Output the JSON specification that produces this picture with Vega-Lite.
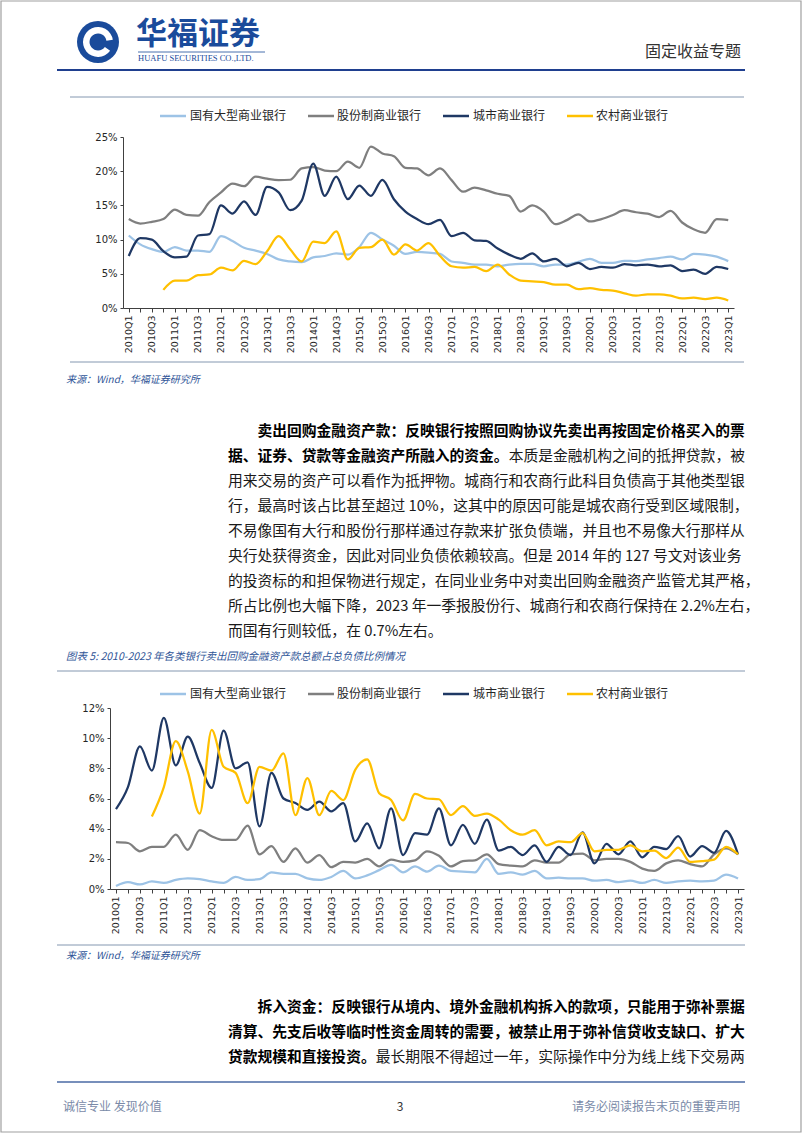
{
"$schema": "https://vega.github.io/schema/vega-lite/v6.json",
"padding": 0,
"background": "white",
"spacing": 0,
"bounds": "flush",
"config": {
  "view": {"stroke": null},
  "font": "Noto Sans CJK SC",
  "axis": {"grid": false, "labelFont": "DejaVu Sans", "domainColor": "#404040", "tickColor": "#404040", "labelColor": "#262626"}
},
"datasets": {
"c1": [
{"q":"2010Q1","s":"国有大型商业银行","v":10.6},{"q":"2010Q2","s":"国有大型商业银行","v":9.3},{"q":"2010Q3","s":"国有大型商业银行","v":8.6},{"q":"2010Q4","s":"国有大型商业银行","v":8.2},
{"q":"2011Q1","s":"国有大型商业银行","v":8.9},{"q":"2011Q2","s":"国有大型商业银行","v":8.4},{"q":"2011Q3","s":"国有大型商业银行","v":8.4},{"q":"2011Q4","s":"国有大型商业银行","v":8.2},
{"q":"2012Q1","s":"国有大型商业银行","v":10.5},{"q":"2012Q2","s":"国有大型商业银行","v":9.8},{"q":"2012Q3","s":"国有大型商业银行","v":8.8},{"q":"2012Q4","s":"国有大型商业银行","v":8.4},
{"q":"2013Q1","s":"国有大型商业银行","v":7.9},{"q":"2013Q2","s":"国有大型商业银行","v":7.1},{"q":"2013Q3","s":"国有大型商业银行","v":6.8},{"q":"2013Q4","s":"国有大型商业银行","v":6.7},
{"q":"2014Q1","s":"国有大型商业银行","v":7.4},{"q":"2014Q2","s":"国有大型商业银行","v":7.6},{"q":"2014Q3","s":"国有大型商业银行","v":8.0},{"q":"2014Q4","s":"国有大型商业银行","v":7.8},
{"q":"2015Q1","s":"国有大型商业银行","v":8.9},{"q":"2015Q2","s":"国有大型商业银行","v":11.0},{"q":"2015Q3","s":"国有大型商业银行","v":10.0},{"q":"2015Q4","s":"国有大型商业银行","v":9.1},
{"q":"2016Q1","s":"国有大型商业银行","v":7.9},{"q":"2016Q2","s":"国有大型商业银行","v":8.2},{"q":"2016Q3","s":"国有大型商业银行","v":8.1},{"q":"2016Q4","s":"国有大型商业银行","v":7.9},
{"q":"2017Q1","s":"国有大型商业银行","v":6.8},{"q":"2017Q2","s":"国有大型商业银行","v":6.6},{"q":"2017Q3","s":"国有大型商业银行","v":6.35},{"q":"2017Q4","s":"国有大型商业银行","v":6.35},
{"q":"2018Q1","s":"国有大型商业银行","v":6.1},{"q":"2018Q2","s":"国有大型商业银行","v":6.35},{"q":"2018Q3","s":"国有大型商业银行","v":6.45},{"q":"2018Q4","s":"国有大型商业银行","v":6.45},
{"q":"2019Q1","s":"国有大型商业银行","v":6.1},{"q":"2019Q2","s":"国有大型商业银行","v":6.35},{"q":"2019Q3","s":"国有大型商业银行","v":6.35},{"q":"2019Q4","s":"国有大型商业银行","v":6.75},
{"q":"2020Q1","s":"国有大型商业银行","v":7.2},{"q":"2020Q2","s":"国有大型商业银行","v":6.6},{"q":"2020Q3","s":"国有大型商业银行","v":6.6},{"q":"2020Q4","s":"国有大型商业银行","v":6.9},
{"q":"2021Q1","s":"国有大型商业银行","v":6.85},{"q":"2021Q2","s":"国有大型商业银行","v":7.1},{"q":"2021Q3","s":"国有大型商业银行","v":7.3},{"q":"2021Q4","s":"国有大型商业银行","v":7.5},
{"q":"2022Q1","s":"国有大型商业银行","v":7.1},{"q":"2022Q2","s":"国有大型商业银行","v":7.9},{"q":"2022Q3","s":"国有大型商业银行","v":7.8},{"q":"2022Q4","s":"国有大型商业银行","v":7.5},
{"q":"2023Q1","s":"国有大型商业银行","v":6.85},
{"q":"2010Q1","s":"股份制商业银行","v":13.0},{"q":"2010Q2","s":"股份制商业银行","v":12.35},{"q":"2010Q3","s":"股份制商业银行","v":12.6},{"q":"2010Q4","s":"股份制商业银行","v":13.0},
{"q":"2011Q1","s":"股份制商业银行","v":14.4},{"q":"2011Q2","s":"股份制商业银行","v":13.6},{"q":"2011Q3","s":"股份制商业银行","v":13.5},{"q":"2011Q4","s":"股份制商业银行","v":15.5},
{"q":"2012Q1","s":"股份制商业银行","v":16.9},{"q":"2012Q2","s":"股份制商业银行","v":18.2},{"q":"2012Q3","s":"股份制商业银行","v":17.8},{"q":"2012Q4","s":"股份制商业银行","v":19.2},
{"q":"2013Q1","s":"股份制商业银行","v":18.9},{"q":"2013Q2","s":"股份制商业银行","v":18.7},{"q":"2013Q3","s":"股份制商业银行","v":18.75},{"q":"2013Q4","s":"股份制商业银行","v":20.4},
{"q":"2014Q1","s":"股份制商业银行","v":20.6},{"q":"2014Q2","s":"股份制商业银行","v":20.1},{"q":"2014Q3","s":"股份制商业银行","v":20.0},{"q":"2014Q4","s":"股份制商业银行","v":21.4},
{"q":"2015Q1","s":"股份制商业银行","v":20.5},{"q":"2015Q2","s":"股份制商业银行","v":23.6},{"q":"2015Q3","s":"股份制商业银行","v":22.6},{"q":"2015Q4","s":"股份制商业银行","v":22.2},
{"q":"2016Q1","s":"股份制商业银行","v":20.5},{"q":"2016Q2","s":"股份制商业银行","v":20.4},{"q":"2016Q3","s":"股份制商业银行","v":19.4},{"q":"2016Q4","s":"股份制商业银行","v":20.4},
{"q":"2017Q1","s":"股份制商业银行","v":18.7},{"q":"2017Q2","s":"股份制商业银行","v":17.0},{"q":"2017Q3","s":"股份制商业银行","v":17.6},{"q":"2017Q4","s":"股份制商业银行","v":17.2},
{"q":"2018Q1","s":"股份制商业银行","v":16.7},{"q":"2018Q2","s":"股份制商业银行","v":16.4},{"q":"2018Q3","s":"股份制商业银行","v":14.1},{"q":"2018Q4","s":"股份制商业银行","v":15.0},
{"q":"2019Q1","s":"股份制商业银行","v":14.1},{"q":"2019Q2","s":"股份制商业银行","v":12.25},{"q":"2019Q3","s":"股份制商业银行","v":12.85},{"q":"2019Q4","s":"股份制商业银行","v":13.7},
{"q":"2020Q1","s":"股份制商业银行","v":12.65},{"q":"2020Q2","s":"股份制商业银行","v":13.0},{"q":"2020Q3","s":"股份制商业银行","v":13.6},{"q":"2020Q4","s":"股份制商业银行","v":14.3},
{"q":"2021Q1","s":"股份制商业银行","v":14.0},{"q":"2021Q2","s":"股份制商业银行","v":13.8},{"q":"2021Q3","s":"股份制商业银行","v":13.3},{"q":"2021Q4","s":"股份制商业银行","v":14.2},
{"q":"2022Q1","s":"股份制商业银行","v":12.5},{"q":"2022Q2","s":"股份制商业银行","v":11.5},{"q":"2022Q3","s":"股份制商业银行","v":11.0},{"q":"2022Q4","s":"股份制商业银行","v":13.0},
{"q":"2023Q1","s":"股份制商业银行","v":12.85},
{"q":"2010Q1","s":"城市商业银行","v":7.6},{"q":"2010Q2","s":"城市商业银行","v":10.2},{"q":"2010Q3","s":"城市商业银行","v":10.0},{"q":"2010Q4","s":"城市商业银行","v":8.3},
{"q":"2011Q1","s":"城市商业银行","v":7.4},{"q":"2011Q2","s":"城市商业银行","v":7.5},{"q":"2011Q3","s":"城市商业银行","v":10.6},{"q":"2011Q4","s":"城市商业银行","v":10.8},
{"q":"2012Q1","s":"城市商业银行","v":15.0},{"q":"2012Q2","s":"城市商业银行","v":13.8},{"q":"2012Q3","s":"城市商业银行","v":15.6},{"q":"2012Q4","s":"城市商业银行","v":13.6},
{"q":"2013Q1","s":"城市商业银行","v":17.7},{"q":"2013Q2","s":"城市商业银行","v":16.9},{"q":"2013Q3","s":"城市商业银行","v":14.3},{"q":"2013Q4","s":"城市商业银行","v":15.7},
{"q":"2014Q1","s":"城市商业银行","v":21.1},{"q":"2014Q2","s":"城市商业银行","v":16.4},{"q":"2014Q3","s":"城市商业银行","v":19.2},{"q":"2014Q4","s":"城市商业银行","v":15.9},
{"q":"2015Q1","s":"城市商业银行","v":17.9},{"q":"2015Q2","s":"城市商业银行","v":16.4},{"q":"2015Q3","s":"城市商业银行","v":18.75},{"q":"2015Q4","s":"城市商业银行","v":15.9},
{"q":"2016Q1","s":"城市商业银行","v":14.1},{"q":"2016Q2","s":"城市商业银行","v":13.0},{"q":"2016Q3","s":"城市商业银行","v":12.25},{"q":"2016Q4","s":"城市商业银行","v":12.9},
{"q":"2017Q1","s":"城市商业银行","v":10.5},{"q":"2017Q2","s":"城市商业银行","v":11.0},{"q":"2017Q3","s":"城市商业银行","v":9.9},{"q":"2017Q4","s":"城市商业银行","v":9.8},
{"q":"2018Q1","s":"城市商业银行","v":8.7},{"q":"2018Q2","s":"城市商业银行","v":7.8},{"q":"2018Q3","s":"城市商业银行","v":7.2},{"q":"2018Q4","s":"城市商业银行","v":8.0},
{"q":"2019Q1","s":"城市商业银行","v":6.8},{"q":"2019Q2","s":"城市商业银行","v":7.2},{"q":"2019Q3","s":"城市商业银行","v":6.1},{"q":"2019Q4","s":"城市商业银行","v":6.6},
{"q":"2020Q1","s":"城市商业银行","v":5.7},{"q":"2020Q2","s":"城市商业银行","v":6.0},{"q":"2020Q3","s":"城市商业银行","v":5.9},{"q":"2020Q4","s":"城市商业银行","v":6.4},
{"q":"2021Q1","s":"城市商业银行","v":6.25},{"q":"2021Q2","s":"城市商业银行","v":6.35},{"q":"2021Q3","s":"城市商业银行","v":6.1},{"q":"2021Q4","s":"城市商业银行","v":6.25},
{"q":"2022Q1","s":"城市商业银行","v":5.4},{"q":"2022Q2","s":"城市商业银行","v":5.6},{"q":"2022Q3","s":"城市商业银行","v":5.0},{"q":"2022Q4","s":"城市商业银行","v":6.0},
{"q":"2023Q1","s":"城市商业银行","v":5.7},
{"q":"2010Q4","s":"农村商业银行","v":2.65},
{"q":"2011Q1","s":"农村商业银行","v":4.0},{"q":"2011Q2","s":"农村商业银行","v":4.0},{"q":"2011Q3","s":"农村商业银行","v":4.8},{"q":"2011Q4","s":"农村商业银行","v":4.9},
{"q":"2012Q1","s":"农村商业银行","v":5.9},{"q":"2012Q2","s":"农村商业银行","v":5.5},{"q":"2012Q3","s":"农村商业银行","v":6.9},{"q":"2012Q4","s":"农村商业银行","v":6.4},
{"q":"2013Q1","s":"农村商业银行","v":8.3},{"q":"2013Q2","s":"农村商业银行","v":10.5},{"q":"2013Q3","s":"农村商业银行","v":8.6},{"q":"2013Q4","s":"农村商业银行","v":6.8},
{"q":"2014Q1","s":"农村商业银行","v":9.7},{"q":"2014Q2","s":"农村商业银行","v":9.5},{"q":"2014Q3","s":"农村商业银行","v":11.2},{"q":"2014Q4","s":"农村商业银行","v":7.1},
{"q":"2015Q1","s":"农村商业银行","v":8.8},{"q":"2015Q2","s":"农村商业银行","v":8.9},{"q":"2015Q3","s":"农村商业银行","v":10.0},{"q":"2015Q4","s":"农村商业银行","v":7.8},
{"q":"2016Q1","s":"农村商业银行","v":9.3},{"q":"2016Q2","s":"农村商业银行","v":8.4},{"q":"2016Q3","s":"农村商业银行","v":9.5},{"q":"2016Q4","s":"农村商业银行","v":7.6},
{"q":"2017Q1","s":"农村商业银行","v":6.1},{"q":"2017Q2","s":"农村商业银行","v":5.9},{"q":"2017Q3","s":"农村商业银行","v":6.0},{"q":"2017Q4","s":"农村商业银行","v":5.4},
{"q":"2018Q1","s":"农村商业银行","v":6.35},{"q":"2018Q2","s":"农村商业银行","v":4.9},{"q":"2018Q3","s":"农村商业银行","v":4.0},{"q":"2018Q4","s":"农村商业银行","v":3.9},
{"q":"2019Q1","s":"农村商业银行","v":3.8},{"q":"2019Q2","s":"农村商业银行","v":3.4},{"q":"2019Q3","s":"农村商业银行","v":3.4},{"q":"2019Q4","s":"农村商业银行","v":2.75},
{"q":"2020Q1","s":"农村商业银行","v":2.9},{"q":"2020Q2","s":"农村商业银行","v":2.65},{"q":"2020Q3","s":"农村商业银行","v":2.55},{"q":"2020Q4","s":"农村商业银行","v":2.15},
{"q":"2021Q1","s":"农村商业银行","v":1.8},{"q":"2021Q2","s":"农村商业银行","v":2.0},{"q":"2021Q3","s":"农村商业银行","v":2.0},{"q":"2021Q4","s":"农村商业银行","v":1.8},
{"q":"2022Q1","s":"农村商业银行","v":1.4},{"q":"2022Q2","s":"农村商业银行","v":1.5},{"q":"2022Q3","s":"农村商业银行","v":1.3},{"q":"2022Q4","s":"农村商业银行","v":1.5},
{"q":"2023Q1","s":"农村商业银行","v":1.1}
],
"c2": [
{"q":"2010Q1","s":"国有大型商业银行","v":0.2},{"q":"2010Q2","s":"国有大型商业银行","v":0.45},{"q":"2010Q3","s":"国有大型商业银行","v":0.3},{"q":"2010Q4","s":"国有大型商业银行","v":0.5},
{"q":"2011Q1","s":"国有大型商业银行","v":0.4},{"q":"2011Q2","s":"国有大型商业银行","v":0.6},{"q":"2011Q3","s":"国有大型商业银行","v":0.7},{"q":"2011Q4","s":"国有大型商业银行","v":0.65},
{"q":"2012Q1","s":"国有大型商业银行","v":0.5},{"q":"2012Q2","s":"国有大型商业银行","v":0.4},{"q":"2012Q3","s":"国有大型商业银行","v":0.8},{"q":"2012Q4","s":"国有大型商业银行","v":0.6},
{"q":"2013Q1","s":"国有大型商业银行","v":0.65},{"q":"2013Q2","s":"国有大型商业银行","v":1.1},{"q":"2013Q3","s":"国有大型商业银行","v":1.0},{"q":"2013Q4","s":"国有大型商业银行","v":1.0},
{"q":"2014Q1","s":"国有大型商业银行","v":0.7},{"q":"2014Q2","s":"国有大型商业银行","v":0.6},{"q":"2014Q3","s":"国有大型商业银行","v":0.8},{"q":"2014Q4","s":"国有大型商业银行","v":1.2},
{"q":"2015Q1","s":"国有大型商业银行","v":0.7},{"q":"2015Q2","s":"国有大型商业银行","v":0.9},{"q":"2015Q3","s":"国有大型商业银行","v":1.25},{"q":"2015Q4","s":"国有大型商业银行","v":1.6},
{"q":"2016Q1","s":"国有大型商业银行","v":1.1},{"q":"2016Q2","s":"国有大型商业银行","v":1.5},{"q":"2016Q3","s":"国有大型商业银行","v":1.15},{"q":"2016Q4","s":"国有大型商业银行","v":1.55},
{"q":"2017Q1","s":"国有大型商业银行","v":1.2},{"q":"2017Q2","s":"国有大型商业银行","v":1.15},{"q":"2017Q3","s":"国有大型商业银行","v":1.1},{"q":"2017Q4","s":"国有大型商业银行","v":2.0},
{"q":"2018Q1","s":"国有大型商业银行","v":1.0},{"q":"2018Q2","s":"国有大型商业银行","v":1.1},{"q":"2018Q3","s":"国有大型商业银行","v":0.95},{"q":"2018Q4","s":"国有大型商业银行","v":1.2},
{"q":"2019Q1","s":"国有大型商业银行","v":0.7},{"q":"2019Q2","s":"国有大型商业银行","v":0.75},{"q":"2019Q3","s":"国有大型商业银行","v":0.7},{"q":"2019Q4","s":"国有大型商业银行","v":0.7},
{"q":"2020Q1","s":"国有大型商业银行","v":0.55},{"q":"2020Q2","s":"国有大型商业银行","v":0.6},{"q":"2020Q3","s":"国有大型商业银行","v":0.45},{"q":"2020Q4","s":"国有大型商业银行","v":0.55},
{"q":"2021Q1","s":"国有大型商业银行","v":0.4},{"q":"2021Q2","s":"国有大型商业银行","v":0.6},{"q":"2021Q3","s":"国有大型商业银行","v":0.4},{"q":"2021Q4","s":"国有大型商业银行","v":0.5},
{"q":"2022Q1","s":"国有大型商业银行","v":0.55},{"q":"2022Q2","s":"国有大型商业银行","v":0.5},{"q":"2022Q3","s":"国有大型商业银行","v":0.55},{"q":"2022Q4","s":"国有大型商业银行","v":0.95},
{"q":"2023Q1","s":"国有大型商业银行","v":0.7},
{"q":"2010Q1","s":"股份制商业银行","v":3.1},{"q":"2010Q2","s":"股份制商业银行","v":3.05},{"q":"2010Q3","s":"股份制商业银行","v":2.5},{"q":"2010Q4","s":"股份制商业银行","v":2.8},
{"q":"2011Q1","s":"股份制商业银行","v":2.8},{"q":"2011Q2","s":"股份制商业银行","v":3.6},{"q":"2011Q3","s":"股份制商业银行","v":2.6},{"q":"2011Q4","s":"股份制商业银行","v":3.9},
{"q":"2012Q1","s":"股份制商业银行","v":3.5},{"q":"2012Q2","s":"股份制商业银行","v":3.25},{"q":"2012Q3","s":"股份制商业银行","v":3.25},{"q":"2012Q4","s":"股份制商业银行","v":4.2},
{"q":"2013Q1","s":"股份制商业银行","v":2.3},{"q":"2013Q2","s":"股份制商业银行","v":2.85},{"q":"2013Q3","s":"股份制商业银行","v":1.8},{"q":"2013Q4","s":"股份制商业银行","v":2.7},
{"q":"2014Q1","s":"股份制商业银行","v":1.75},{"q":"2014Q2","s":"股份制商业银行","v":2.25},{"q":"2014Q3","s":"股份制商业银行","v":1.45},{"q":"2014Q4","s":"股份制商业银行","v":1.8},
{"q":"2015Q1","s":"股份制商业银行","v":1.75},{"q":"2015Q2","s":"股份制商业银行","v":2.0},{"q":"2015Q3","s":"股份制商业银行","v":1.5},{"q":"2015Q4","s":"股份制商业银行","v":1.95},
{"q":"2016Q1","s":"股份制商业银行","v":1.8},{"q":"2016Q2","s":"股份制商业银行","v":1.9},{"q":"2016Q3","s":"股份制商业银行","v":2.5},{"q":"2016Q4","s":"股份制商业银行","v":2.2},
{"q":"2017Q1","s":"股份制商业银行","v":1.5},{"q":"2017Q2","s":"股份制商业银行","v":1.85},{"q":"2017Q3","s":"股份制商业银行","v":1.9},{"q":"2017Q4","s":"股份制商业银行","v":2.3},
{"q":"2018Q1","s":"股份制商业银行","v":1.65},{"q":"2018Q2","s":"股份制商业银行","v":1.55},{"q":"2018Q3","s":"股份制商业银行","v":1.5},{"q":"2018Q4","s":"股份制商业银行","v":1.9},
{"q":"2019Q1","s":"股份制商业银行","v":1.75},{"q":"2019Q2","s":"股份制商业银行","v":1.75},{"q":"2019Q3","s":"股份制商业银行","v":2.3},{"q":"2019Q4","s":"股份制商业银行","v":2.35},
{"q":"2020Q1","s":"股份制商业银行","v":1.9},{"q":"2020Q2","s":"股份制商业银行","v":2.0},{"q":"2020Q3","s":"股份制商业银行","v":2.0},{"q":"2020Q4","s":"股份制商业银行","v":1.8},
{"q":"2021Q1","s":"股份制商业银行","v":1.35},{"q":"2021Q2","s":"股份制商业银行","v":1.2},{"q":"2021Q3","s":"股份制商业银行","v":1.7},{"q":"2021Q4","s":"股份制商业银行","v":1.9},
{"q":"2022Q1","s":"股份制商业银行","v":1.65},{"q":"2022Q2","s":"股份制商业银行","v":1.5},{"q":"2022Q3","s":"股份制商业银行","v":2.3},{"q":"2022Q4","s":"股份制商业银行","v":2.7},
{"q":"2023Q1","s":"股份制商业银行","v":2.3},
{"q":"2010Q1","s":"城市商业银行","v":5.3},{"q":"2010Q2","s":"城市商业银行","v":6.75},{"q":"2010Q3","s":"城市商业银行","v":9.45},{"q":"2010Q4","s":"城市商业银行","v":7.85},
{"q":"2011Q1","s":"城市商业银行","v":11.35},{"q":"2011Q2","s":"城市商业银行","v":8.2},{"q":"2011Q3","s":"城市商业银行","v":10.1},{"q":"2011Q4","s":"城市商业银行","v":8.35},
{"q":"2012Q1","s":"城市商业银行","v":6.7},{"q":"2012Q2","s":"城市商业银行","v":10.5},{"q":"2012Q3","s":"城市商业银行","v":8.0},{"q":"2012Q4","s":"城市商业银行","v":8.4},
{"q":"2013Q1","s":"城市商业银行","v":4.15},{"q":"2013Q2","s":"城市商业银行","v":7.7},{"q":"2013Q3","s":"城市商业银行","v":6.0},{"q":"2013Q4","s":"城市商业银行","v":5.7},
{"q":"2014Q1","s":"城市商业银行","v":5.25},{"q":"2014Q2","s":"城市商业银行","v":5.8},{"q":"2014Q3","s":"城市商业银行","v":5.15},{"q":"2014Q4","s":"城市商业银行","v":5.7},
{"q":"2015Q1","s":"城市商业银行","v":3.15},{"q":"2015Q2","s":"城市商业银行","v":4.35},{"q":"2015Q3","s":"城市商业银行","v":2.7},{"q":"2015Q4","s":"城市商业银行","v":5.35},
{"q":"2016Q1","s":"城市商业银行","v":2.25},{"q":"2016Q2","s":"城市商业银行","v":3.7},{"q":"2016Q3","s":"城市商业银行","v":3.6},{"q":"2016Q4","s":"城市商业银行","v":5.35},
{"q":"2017Q1","s":"城市商业银行","v":2.9},{"q":"2017Q2","s":"城市商业银行","v":4.25},{"q":"2017Q3","s":"城市商业银行","v":3.0},{"q":"2017Q4","s":"城市商业银行","v":4.6},
{"q":"2018Q1","s":"城市商业银行","v":2.55},{"q":"2018Q2","s":"城市商业银行","v":2.8},{"q":"2018Q3","s":"城市商业银行","v":2.25},{"q":"2018Q4","s":"城市商业银行","v":2.9},
{"q":"2019Q1","s":"城市商业银行","v":1.8},{"q":"2019Q2","s":"城市商业银行","v":2.8},{"q":"2019Q3","s":"城市商业银行","v":2.25},{"q":"2019Q4","s":"城市商业银行","v":3.75},
{"q":"2020Q1","s":"城市商业银行","v":1.7},{"q":"2020Q2","s":"城市商业银行","v":3.0},{"q":"2020Q3","s":"城市商业银行","v":2.3},{"q":"2020Q4","s":"城市商业银行","v":3.15},
{"q":"2021Q1","s":"城市商业银行","v":2.1},{"q":"2021Q2","s":"城市商业银行","v":2.8},{"q":"2021Q3","s":"城市商业银行","v":2.65},{"q":"2021Q4","s":"城市商业银行","v":3.5},
{"q":"2022Q1","s":"城市商业银行","v":2.15},{"q":"2022Q2","s":"城市商业银行","v":2.85},{"q":"2022Q3","s":"城市商业银行","v":2.4},{"q":"2022Q4","s":"城市商业银行","v":3.85},
{"q":"2023Q1","s":"城市商业银行","v":2.3},
{"q":"2010Q4","s":"农村商业银行","v":4.8},
{"q":"2011Q1","s":"农村商业银行","v":6.75},{"q":"2011Q2","s":"农村商业银行","v":9.8},{"q":"2011Q3","s":"农村商业银行","v":7.8},{"q":"2011Q4","s":"农村商业银行","v":5.0},
{"q":"2012Q1","s":"农村商业银行","v":10.55},{"q":"2012Q2","s":"农村商业银行","v":8.1},{"q":"2012Q3","s":"农村商业银行","v":7.7},{"q":"2012Q4","s":"农村商业银行","v":5.7},
{"q":"2013Q1","s":"农村商业银行","v":8.1},{"q":"2013Q2","s":"农村商业银行","v":7.85},{"q":"2013Q3","s":"农村商业银行","v":9.0},{"q":"2013Q4","s":"农村商业银行","v":4.9},
{"q":"2014Q1","s":"农村商业银行","v":7.35},{"q":"2014Q2","s":"农村商业银行","v":4.9},{"q":"2014Q3","s":"农村商业银行","v":6.5},{"q":"2014Q4","s":"农村商业银行","v":5.9},
{"q":"2015Q1","s":"农村商业银行","v":7.9},{"q":"2015Q2","s":"农村商业银行","v":8.6},{"q":"2015Q3","s":"农村商业银行","v":6.35},{"q":"2015Q4","s":"农村商业银行","v":5.9},
{"q":"2016Q1","s":"农村商业银行","v":4.55},{"q":"2016Q2","s":"农村商业银行","v":6.3},{"q":"2016Q3","s":"农村商业银行","v":6.0},{"q":"2016Q4","s":"农村商业银行","v":5.95},
{"q":"2017Q1","s":"农村商业银行","v":4.9},{"q":"2017Q2","s":"农村商业银行","v":5.5},{"q":"2017Q3","s":"农村商业银行","v":4.85},{"q":"2017Q4","s":"农村商业银行","v":5.0},
{"q":"2018Q1","s":"农村商业银行","v":4.6},{"q":"2018Q2","s":"农村商业银行","v":3.9},{"q":"2018Q3","s":"农村商业银行","v":3.6},{"q":"2018Q4","s":"农村商业银行","v":3.9},
{"q":"2019Q1","s":"农村商业银行","v":2.9},{"q":"2019Q2","s":"农村商业银行","v":3.15},{"q":"2019Q3","s":"农村商业银行","v":3.1},{"q":"2019Q4","s":"农村商业银行","v":3.7},
{"q":"2020Q1","s":"农村商业银行","v":2.5},{"q":"2020Q2","s":"农村商业银行","v":2.6},{"q":"2020Q3","s":"农村商业银行","v":2.6},{"q":"2020Q4","s":"农村商业银行","v":2.9},
{"q":"2021Q1","s":"农村商业银行","v":2.5},{"q":"2021Q2","s":"农村商业银行","v":2.55},{"q":"2021Q3","s":"农村商业银行","v":2.05},{"q":"2021Q4","s":"农村商业银行","v":2.75},
{"q":"2022Q1","s":"农村商业银行","v":1.8},{"q":"2022Q2","s":"农村商业银行","v":1.85},{"q":"2022Q3","s":"农村商业银行","v":1.95},{"q":"2022Q4","s":"农村商业银行","v":2.8},
{"q":"2023Q1","s":"农村商业银行","v":2.3}
],
"p1": [
{"line":0,"col":2,"part":"lead","text":"卖出回购金融资产款：反映银行按照回购协议先卖出再按固定价格买入的票"},
{"line":1,"col":0,"part":"lead","text":"据、证券、贷款等金融资产所融入的资金。"},
{"line":1,"col":19,"part":"body","text":"本质是金融机构之间的抵押贷款，被"},
{"line":2,"col":0,"part":"body","text":"用来交易的资产可以看作为抵押物。城商行和农商行此科目负债高于其他类型银"},
{"line":3,"col":0,"part":"body","text":"行，最高时该占比甚至超过 10%，这其中的原因可能是城农商行受到区域限制，"},
{"line":4,"col":0,"part":"body","text":"不易像国有大行和股份行那样通过存款来扩张负债端，并且也不易像大行那样从"},
{"line":5,"col":0,"part":"body","text":"央行处获得资金，因此对同业负债依赖较高。但是 2014 年的 127 号文对该业务"},
{"line":6,"col":0,"part":"body","text":"的投资标的和担保物进行规定，在同业业务中对卖出回购金融资产监管尤其严格，"},
{"line":7,"col":0,"part":"body","text":"所占比例也大幅下降，2023 年一季报股份行、城商行和农商行保持在 2.2%左右，"},
{"line":8,"col":0,"part":"body","text":"而国有行则较低，在 0.7%左右。"}
],
"p2": [
{"line":0,"col":2,"part":"lead","text":"拆入资金：反映银行从境内、境外金融机构拆入的款项，只能用于弥补票据"},
{"line":1,"col":0,"part":"lead","text":"清算、先支后收等临时性资金周转的需要，被禁止用于弥补信贷收支缺口、扩大"},
{"line":2,"col":0,"part":"lead","text":"贷款规模和直接投资。"},
{"line":2,"col":10,"part":"body","text":"最长期限不得超过一年，实际操作中分为线上线下交易两"}
]
},
"vconcat": [
{
  "width": 802, "height": 137,
  "data": {"values": [{}]},
  "layer": [
    {"mark": {"type": "rect", "filled": false, "stroke": "#a0a0a0", "strokeWidth": 1.2}, "encoding": {"x": {"value": 1}, "x2": {"value": 801}, "y": {"value": 1}, "y2": {"value": 1132}}},
    {"mark": {"type": "arc", "radius": 21, "radius2": 0, "theta": 0, "theta2": 6.2832, "color": "#1a4b9b"}, "encoding": {"x": {"value": 98}, "y": {"value": 42}}},
    {"mark": {"type": "arc", "radius": 15, "radius2": 8.5, "theta": 2.2, "theta2": 7.7, "color": "white"}, "encoding": {"x": {"value": 98}, "y": {"value": 42}}},
    {"mark": {"type": "text", "text": "华福证券", "fontSize": 31, "fontWeight": "bold", "color": "#1a4b9b", "align": "left", "baseline": "middle"}, "encoding": {"x": {"value": 136}, "y": {"value": 35}}},
    {"mark": {"type": "rule", "color": "#1a4b9b", "strokeWidth": 0.8}, "encoding": {"x": {"value": 138}, "x2": {"value": 265}, "y": {"value": 52}}},
    {"mark": {"type": "text", "text": "HUAFU SECURITIES CO.,LTD.", "font": "Liberation Serif", "fontSize": 8.5, "color": "#1a4b9b", "align": "left", "baseline": "middle"}, "encoding": {"x": {"value": 138}, "y": {"value": 58}}},
    {"mark": {"type": "text", "text": "固定收益专题", "fontSize": 16, "color": "#333333", "align": "right", "baseline": "middle"}, "encoding": {"x": {"value": 741}, "y": {"value": 52}}},
    {"mark": {"type": "rule", "color": "#1f3f8f", "strokeWidth": 2}, "encoding": {"x": {"value": 57}, "x2": {"value": 745}, "y": {"value": 70}}},
    {"mark": {"type": "rule", "color": "#8497b0", "strokeWidth": 1}, "encoding": {"x": {"value": 70}, "x2": {"value": 744}, "y": {"value": 97}}},
    {"mark": {"type": "point", "shape": "stroke", "size": 676, "strokeWidth": 2.5, "filled": false, "opacity": 1, "color": "#9dc3e6"}, "encoding": {"x": {"value": 173}, "y": {"value": 116}}},
    {"mark": {"type": "text", "text": "国有大型商业银行", "fontSize": 12, "color": "#262626", "align": "left", "baseline": "middle"}, "encoding": {"x": {"value": 190}, "y": {"value": 116}}},
    {"mark": {"type": "point", "shape": "stroke", "size": 676, "strokeWidth": 2.5, "filled": false, "opacity": 1, "color": "#7f7f7f"}, "encoding": {"x": {"value": 321}, "y": {"value": 116}}},
    {"mark": {"type": "text", "text": "股份制商业银行", "fontSize": 12, "color": "#262626", "align": "left", "baseline": "middle"}, "encoding": {"x": {"value": 337}, "y": {"value": 116}}},
    {"mark": {"type": "point", "shape": "stroke", "size": 676, "strokeWidth": 2.5, "filled": false, "opacity": 1, "color": "#1f3864"}, "encoding": {"x": {"value": 456}, "y": {"value": 116}}},
    {"mark": {"type": "text", "text": "城市商业银行", "fontSize": 12, "color": "#262626", "align": "left", "baseline": "middle"}, "encoding": {"x": {"value": 473}, "y": {"value": 116}}},
    {"mark": {"type": "point", "shape": "stroke", "size": 676, "strokeWidth": 2.5, "filled": false, "opacity": 1, "color": "#ffc000"}, "encoding": {"x": {"value": 580}, "y": {"value": 116}}},
    {"mark": {"type": "text", "text": "农村商业银行", "fontSize": 12, "color": "#262626", "align": "left", "baseline": "middle"}, "encoding": {"x": {"value": 596}, "y": {"value": 116}}}
  ]
},
{
  "width": 802, "height": 171,
  "data": {"name": "c1"},
  "mark": {"type": "line", "interpolate": "monotone", "strokeWidth": 2.25},
  "encoding": {
    "x": {"field": "q", "type": "ordinal", "title": null,
          "scale": {"padding": 0.5, "range": [123, 734]},
          "axis": {"labelAngle": -90, "labelOverlap": false, "tickSize": 4, "labelFontSize": 9.5, "labelPadding": 3,
                   "labelExpr": "indexof(datum.value,'Q1')>=0 || indexof(datum.value,'Q3')>=0 ? datum.value : ''"}},
    "y": {"field": "v", "type": "quantitative", "title": null,
          "scale": {"domain": [0, 25], "nice": false},
          "axis": {"offset": -123, "values": [0, 5, 10, 15, 20, 25], "labelExpr": "datum.value + '%'", "tickSize": 3, "labelFontSize": 10, "labelPadding": 3}},
    "color": {"field": "s", "type": "nominal", "sort": null,
              "scale": {"domain": ["国有大型商业银行", "股份制商业银行", "城市商业银行", "农村商业银行"], "range": ["#9dc3e6", "#7f7f7f", "#1f3864", "#ffc000"]},
              "legend": null}
  }
},
{
  "width": 802, "height": 400,
  "layer": [
    {"data": {"values": [{}]}, "mark": {"type": "rule", "color": "#8497b0", "strokeWidth": 1}, "encoding": {"x": {"value": 70}, "x2": {"value": 744}, "y": {"value": 54}}},
    {"data": {"values": [{}]}, "mark": {"type": "text", "text": "来源：Wind，华福证券研究所", "fontSize": 10, "fontStyle": "italic", "color": "#2f5597", "align": "left", "baseline": "middle"}, "encoding": {"x": {"value": 66}, "y": {"value": 72}}},
    {"data": {"name": "p1"}, "transform": [{"filter": "datum.part == 'lead'"}],
     "mark": {"type": "text", "fontSize": 14.77, "fontWeight": "bold", "color": "#000000", "align": "left", "baseline": "middle"},
     "encoding": {"x": {"field": "col", "type": "quantitative", "scale": {"domain": [0, 35], "range": [228, 745], "nice": false, "zero": false}, "axis": null},
                  "y": {"field": "line", "type": "quantitative", "scale": {"domain": [0, 8], "range": [124, 324], "nice": false, "zero": false}, "axis": null},
                  "text": {"field": "text"}}},
    {"data": {"name": "p1"}, "transform": [{"filter": "datum.part == 'body'"}],
     "mark": {"type": "text", "fontSize": 14.77, "color": "#1a1a1a", "align": "left", "baseline": "middle"},
     "encoding": {"x": {"field": "col", "type": "quantitative", "scale": {"domain": [0, 35], "range": [228, 745], "nice": false, "zero": false}, "axis": null},
                  "y": {"field": "line", "type": "quantitative", "scale": {"domain": [0, 8], "range": [124, 324], "nice": false, "zero": false}, "axis": null},
                  "text": {"field": "text"}}},
    {"data": {"values": [{}]}, "mark": {"type": "text", "text": "图表 5: 2010-2023 年各类银行卖出回购金融资产款总额占总负债比例情况", "fontSize": 10.5, "fontStyle": "italic", "color": "#2f5597", "align": "left", "baseline": "middle"}, "encoding": {"x": {"value": 66}, "y": {"value": 349}}},
    {"data": {"values": [{}]}, "mark": {"type": "rule", "color": "#8497b0", "strokeWidth": 1}, "encoding": {"x": {"value": 57}, "x2": {"value": 745}, "y": {"value": 363}}},
    {"data": {"values": [{}]}, "mark": {"type": "point", "shape": "stroke", "size": 676, "strokeWidth": 2.5, "filled": false, "opacity": 1, "color": "#9dc3e6"}, "encoding": {"x": {"value": 173}, "y": {"value": 386}}},
    {"data": {"values": [{}]}, "mark": {"type": "text", "text": "国有大型商业银行", "fontSize": 12, "color": "#262626", "align": "left", "baseline": "middle"}, "encoding": {"x": {"value": 190}, "y": {"value": 386}}},
    {"data": {"values": [{}]}, "mark": {"type": "point", "shape": "stroke", "size": 676, "strokeWidth": 2.5, "filled": false, "opacity": 1, "color": "#7f7f7f"}, "encoding": {"x": {"value": 321}, "y": {"value": 386}}},
    {"data": {"values": [{}]}, "mark": {"type": "text", "text": "股份制商业银行", "fontSize": 12, "color": "#262626", "align": "left", "baseline": "middle"}, "encoding": {"x": {"value": 337}, "y": {"value": 386}}},
    {"data": {"values": [{}]}, "mark": {"type": "point", "shape": "stroke", "size": 676, "strokeWidth": 2.5, "filled": false, "opacity": 1, "color": "#1f3864"}, "encoding": {"x": {"value": 456}, "y": {"value": 386}}},
    {"data": {"values": [{}]}, "mark": {"type": "text", "text": "城市商业银行", "fontSize": 12, "color": "#262626", "align": "left", "baseline": "middle"}, "encoding": {"x": {"value": 473}, "y": {"value": 386}}},
    {"data": {"values": [{}]}, "mark": {"type": "point", "shape": "stroke", "size": 676, "strokeWidth": 2.5, "filled": false, "opacity": 1, "color": "#ffc000"}, "encoding": {"x": {"value": 580}, "y": {"value": 386}}},
    {"data": {"values": [{}]}, "mark": {"type": "text", "text": "农村商业银行", "fontSize": 12, "color": "#262626", "align": "left", "baseline": "middle"}, "encoding": {"x": {"value": 596}, "y": {"value": 386}}}
  ]
},
{
  "width": 802, "height": 181,
  "data": {"name": "c2"},
  "mark": {"type": "line", "interpolate": "monotone", "strokeWidth": 2.25},
  "encoding": {
    "x": {"field": "q", "type": "ordinal", "title": null,
          "scale": {"padding": 0.5, "range": [110, 744]},
          "axis": {"labelAngle": -90, "labelOverlap": false, "tickSize": 4, "labelFontSize": 9.5, "labelPadding": 3,
                   "labelExpr": "indexof(datum.value,'Q1')>=0 || indexof(datum.value,'Q3')>=0 ? datum.value : ''"}},
    "y": {"field": "v", "type": "quantitative", "title": null,
          "scale": {"domain": [0, 12], "nice": false},
          "axis": {"offset": -110, "values": [0, 2, 4, 6, 8, 10, 12], "labelExpr": "datum.value + '%'", "tickSize": 3, "labelFontSize": 10, "labelPadding": 3}},
    "color": {"field": "s", "type": "nominal", "sort": null,
              "scale": {"domain": ["国有大型商业银行", "股份制商业银行", "城市商业银行", "农村商业银行"], "range": ["#9dc3e6", "#7f7f7f", "#1f3864", "#ffc000"]},
              "legend": null}
  }
},
{
  "width": 802, "height": 244,
  "layer": [
    {"data": {"values": [{}]}, "mark": {"type": "rule", "color": "#8497b0", "strokeWidth": 1}, "encoding": {"x": {"value": 57}, "x2": {"value": 745}, "y": {"value": 56}}},
    {"data": {"values": [{}]}, "mark": {"type": "text", "text": "来源：Wind，华福证券研究所", "fontSize": 10, "fontStyle": "italic", "color": "#2f5597", "align": "left", "baseline": "middle"}, "encoding": {"x": {"value": 66}, "y": {"value": 67}}},
    {"data": {"name": "p2"}, "transform": [{"filter": "datum.part == 'lead'"}],
     "mark": {"type": "text", "fontSize": 14.77, "fontWeight": "bold", "color": "#000000", "align": "left", "baseline": "middle"},
     "encoding": {"x": {"field": "col", "type": "quantitative", "scale": {"domain": [0, 35], "range": [228, 745], "nice": false, "zero": false}, "axis": null},
                  "y": {"field": "line", "type": "quantitative", "scale": {"domain": [0, 2], "range": [119, 169], "nice": false, "zero": false}, "axis": null},
                  "text": {"field": "text"}}},
    {"data": {"name": "p2"}, "transform": [{"filter": "datum.part == 'body'"}],
     "mark": {"type": "text", "fontSize": 14.77, "color": "#1a1a1a", "align": "left", "baseline": "middle"},
     "encoding": {"x": {"field": "col", "type": "quantitative", "scale": {"domain": [0, 35], "range": [228, 745], "nice": false, "zero": false}, "axis": null},
                  "y": {"field": "line", "type": "quantitative", "scale": {"domain": [0, 2], "range": [119, 169], "nice": false, "zero": false}, "axis": null},
                  "text": {"field": "text"}}},
    {"data": {"values": [{}]}, "mark": {"type": "rule", "color": "#4a6aa5", "strokeWidth": 1.5}, "encoding": {"x": {"value": 57}, "x2": {"value": 745}, "y": {"value": 193}}},
    {"data": {"values": [{}]}, "mark": {"type": "text", "text": "诚信专业  发现价值", "fontSize": 12, "color": "#7a8aa8", "align": "left", "baseline": "middle"}, "encoding": {"x": {"value": 63}, "y": {"value": 218}}},
    {"data": {"values": [{}]}, "mark": {"type": "text", "text": "3", "fontSize": 12, "color": "#333333", "align": "center", "baseline": "middle"}, "encoding": {"x": {"value": 400}, "y": {"value": 218}}},
    {"data": {"values": [{}]}, "mark": {"type": "text", "text": "请务必阅读报告末页的重要声明", "fontSize": 12, "color": "#7a8aa8", "align": "right", "baseline": "middle"}, "encoding": {"x": {"value": 740}, "y": {"value": 218}}}
  ]
}
]
}
